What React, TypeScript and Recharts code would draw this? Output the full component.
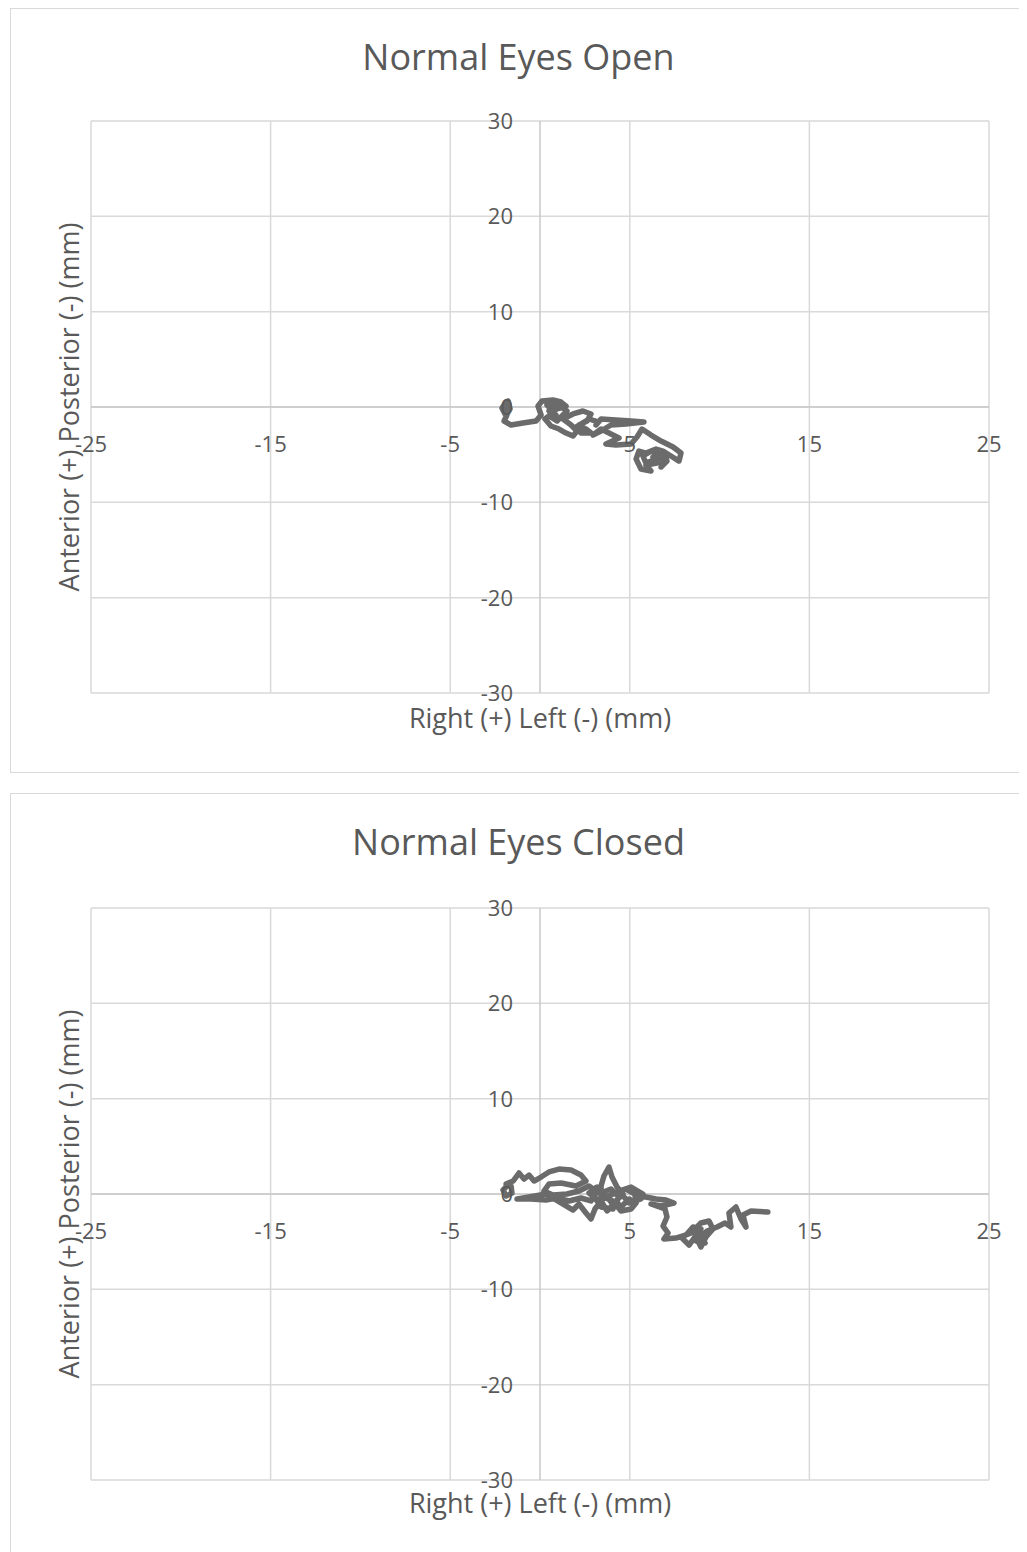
import React from "react";
import { ScatterChart, Scatter, XAxis, YAxis, CartesianGrid, ReferenceLine } from "recharts";

const X_TICKS = [-25, -15, -5, 5, 15, 25];
const Y_TICKS = [-30, -20, -10, 0, 10, 20, 30];

const openX = [-1.89, -2.12, -1.95, -1.67, -1.78, -1.95, -1.84, -2.0, -1.61, -0.95, -0.22, 0.06, -0.11, 0.11, 0.72, 1.17, 1.45, 0.95, 0.5, 0.89, 0.39, 1.06, 1.5, 0.95, 0.5, 0.28, 0.61, 1.06, 1.45, 1.84, 2.06, 1.73, 1.28, 1.84, 2.39, 2.84, 2.62, 2.17, 2.56, 2.84, 2.28, 2.0, 2.73, 3.23, 3.12, 3.4, 4.23, 5.07, 5.79, 4.79, 3.95, 3.4, 2.95, 3.4, 3.95, 4.4, 3.67, 4.23, 5.07, 5.4, 5.68, 6.18, 6.74, 7.41, 7.85, 7.74, 7.29, 6.85, 6.46, 5.9, 5.51, 5.35, 5.62, 6.18, 5.9, 6.52, 6.29, 6.85, 6.74, 7.07, 6.96, 6.46, 5.9, 5.73, 6.18, 6.74];
const openY = [0.52, -0.1, -0.73, -0.21, 0.63, 0.31, -0.84, -1.47, -1.89, -1.68, -1.47, -0.84, 0.1, 0.63, 0.73, 0.52, 0.1, -0.21, -0.42, -0.84, 0.21, 0.21, -0.42, -1.47, -0.94, -1.26, -1.99, -2.31, -2.73, -3.04, -2.52, -1.89, -1.26, -0.73, -0.42, -0.73, -1.47, -1.89, -2.31, -2.73, -2.73, -2.1, -1.26, -1.57, -1.89, -1.26, -1.36, -1.47, -1.57, -1.78, -1.89, -2.52, -2.94, -2.31, -2.83, -3.25, -3.88, -3.99, -3.88, -3.15, -2.31, -2.94, -3.57, -4.2, -4.83, -5.67, -5.14, -4.62, -4.41, -4.83, -4.62, -5.46, -6.51, -6.72, -6.09, -5.88, -5.25, -5.46, -6.3, -5.67, -4.83, -5.46, -5.88, -5.14, -4.62, -5.04];

const closedX = [-1.78, -2.06, -1.89, -1.56, -1.61, -1.89, -1.5, -1.17, -0.89, -0.61, -0.33, 0.06, 0.5, 1.06, 1.73, 2.28, 2.56, 2.0, 1.17, 0.5, 0.22, 0.72, 1.5, 2.17, 2.73, 3.12, 2.84, 2.28, 1.61, 0.95, 0.33, -0.5, -1.28, -0.61, 0.33, 1.17, 1.84, 2.17, 2.56, 2.84, 3.06, 3.4, 3.73, 4.06, 3.73, 3.17, 2.84, 3.4, 3.95, 4.4, 4.06, 3.4, 3.4, 3.56, 3.84, 4.01, 4.29, 4.62, 4.23, 4.51, 4.96, 5.35, 5.07, 4.51, 4.06, 3.51, 3.17, 2.73, 3.29, 4.06, 4.79, 5.18, 5.62, 4.96, 4.4, 5.07, 5.73, 5.29, 5.9, 6.46, 7.02, 7.46, 6.74, 6.18, 6.96, 7.07, 6.85, 7.13, 6.9, 7.57, 8.13, 8.52, 8.96, 8.74, 8.96, 9.24, 9.63, 9.41, 8.96, 8.41, 7.85, 8.3, 8.79, 9.19, 8.69, 9.3, 9.86, 10.3, 10.63, 10.52, 10.91, 11.19, 11.47, 11.3, 11.75, 12.69];
const closedY = [0.94, 0.42, -0.21, 0.1, 0.84, 1.05, 1.36, 2.2, 1.57, 1.99, 1.36, 1.78, 2.31, 2.62, 2.52, 1.99, 1.36, 0.84, 1.15, 1.05, 0.31, -0.1, 0.0, 0.31, 0.84, 0.31, -0.73, -0.42, -0.73, -0.42, -0.63, -0.52, -0.52, -0.31, 0.0, -0.94, -1.68, -1.05, -1.99, -2.62, -1.57, -0.73, -1.78, -1.15, -0.21, -0.73, 0.1, 0.1, 0.52, -0.31, -1.57, -1.36, 0.84, 1.89, 2.83, 1.78, 0.73, 0.0, -0.73, -1.36, -0.52, -0.94, -1.57, -1.78, -0.73, -0.31, 0.73, 0.1, -0.73, 0.0, 0.52, 0.1, -0.52, -0.94, 0.31, 0.73, 0.0, -0.21, -0.31, -0.52, -0.63, -0.94, -1.26, -1.05, -1.57, -2.41, -3.36, -4.09, -4.72, -4.62, -4.3, -3.46, -3.67, -4.72, -5.56, -4.51, -3.67, -2.83, -3.04, -4.09, -4.51, -5.35, -4.09, -5.14, -4.93, -3.88, -3.46, -3.04, -3.46, -1.99, -1.36, -2.62, -3.46, -2.2, -1.78, -1.89];

const openData = openX.map((x, i) => ({ x, y: openY[i] }));
const closedData = closedX.map((x, i) => ({ x, y: closedY[i] }));

const FONT = "'Open Sans', 'Noto Sans', sans-serif";
const TEXT = "#595959";
const CHART_W = 1017;
const CHART_H = 765;
const PLOT_W = 898;
const PLOT_H = 572;
const PLOT_LEFT = 80;
const Y_AXIS_W = 40;
const X_AXIS_H = 30;

function Panel({ title, data, top, marginTop }: { title: string; data: { x: number; y: number }[]; top: number; marginTop: number }) {
  const margin = {
    left: PLOT_LEFT - Y_AXIS_W,
    top: marginTop,
    right: CHART_W - PLOT_LEFT - PLOT_W,
    bottom: CHART_H - marginTop - PLOT_H - X_AXIS_H,
  };
  const zeroX = PLOT_LEFT + PLOT_W / 2;
  const zeroY = marginTop + PLOT_H / 2;
  const XTick = (props: any) => (
    <text x={props.x} y={zeroY + 36} textAnchor="middle" dominantBaseline="central" fill={TEXT} fontSize={22} fontFamily={FONT}>
      {props.payload.value}
    </text>
  );
  const YTick = (props: any) => (
    <text x={zeroX - 27} y={props.y - 1} textAnchor="end" dominantBaseline="central" fill={TEXT} fontSize={22} fontFamily={FONT}>
      {props.payload.value}
    </text>
  );
  return (
    <div style={{ position: "absolute", left: 2, top, width: 1030, height: CHART_H, border: "1.5px solid #d9d9d9", boxSizing: "border-box", background: "#fff" }}>
      <div style={{ position: "absolute", left: 0, top: 0 }}>
        <ScatterChart width={CHART_W} height={CHART_H} margin={margin}>
          <CartesianGrid stroke="#d9d9d9" strokeWidth={1.5} />
          <XAxis type="number" dataKey="x" domain={[-25, 25]} ticks={X_TICKS} height={X_AXIS_H} axisLine={false} tickLine={false} tick={XTick} interval={0} />
          <YAxis type="number" dataKey="y" domain={[-30, 30]} ticks={Y_TICKS} width={Y_AXIS_W} axisLine={false} tickLine={false} tick={YTick} interval={0} />
          <ReferenceLine x={0} stroke="#c8c8c8" strokeWidth={1.5} />
          <ReferenceLine y={0} stroke="#c8c8c8" strokeWidth={1.5} />
          <Scatter
            data={data}
            isAnimationActive={false}
            line={{ stroke: "#6b6b6b", strokeWidth: 5.5, strokeLinejoin: "round", strokeLinecap: "round" }}
            lineJointType="linear"
            shape={() => <g />}
          />
        </ScatterChart>
      </div>
      <div style={{ position: "absolute", left: 0, width: CHART_W - 2, top: 26, textAlign: "center", fontFamily: FONT, fontSize: 36, color: TEXT, lineHeight: "44px" }}>
        {title}
      </div>
      <div style={{ position: "absolute", left: zeroX - 250, width: 500, top: 693, textAlign: "center", fontFamily: FONT, fontSize: 27, color: TEXT, lineHeight: "32px" }}>
        Right (+) Left (-) (mm)
      </div>
      <div style={{ position: "absolute", left: 58 - 250, top: zeroY - 16, width: 500, textAlign: "center", fontFamily: FONT, fontSize: 27, color: TEXT, lineHeight: "32px", transform: "rotate(-90deg)" }}>
        Anterior (+) Posterior (-) (mm)
      </div>
    </div>
  );
}

export default function App() {
  return (
    <div style={{ position: "relative", width: 1019, height: 1544, overflow: "hidden" }}>
      <Panel title="Normal Eyes Open" data={openData} top={0} marginTop={112} />
      <Panel title="Normal Eyes Closed" data={closedData} top={785} marginTop={114} />
    </div>
  );
}
